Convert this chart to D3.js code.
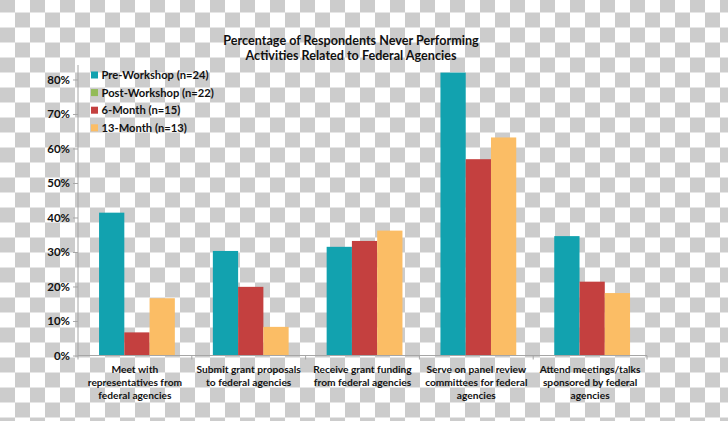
<!DOCTYPE html>
<html><head><meta charset="utf-8">
<script src="https://cdn.jsdelivr.net/npm/d3@7"></script>
<style>body{margin:0;padding:0;overflow:hidden;} svg{display:block;}</style>
</head><body>
<script>
const categories = [
  ["Meet with", "representatives from", "federal agencies"],
  ["Submit grant proposals", "to federal agencies"],
  ["Receive grant funding", "from federal agencies"],
  ["Serve on panel review", "committees for federal", "agencies"],
  ["Attend meetings/talks", "sponsored by federal", "agencies"]
];
const seriesNames = ["Pre-Workshop (n=24)", "Post-Workshop (n=22)", "6-Month (n=15)", "13-Month (n=13)"];
const preWorkshop = [0.414, 0.303, 0.315, 0.82, 0.346];
const postWorkshop = [null, null, null, null, null];
const sixMonth = [0.067, 0.199, 0.332, 0.569, 0.214];
const thirteenMonth = [0.166, 0.083, 0.362, 0.632, 0.181];
const yTicks = [0, 0.1, 0.2, 0.3, 0.4, 0.5, 0.6, 0.7, 0.8];
const titleLines = ["Percentage of Respondents Never Performing", "Activities Related to Federal Agencies"];
const colors = ["#12a2af", "#93bb58", "#c4403f", "#fbbd65"];

const W = 728, H = 421;
const svg = d3.select("body").append("svg").attr("width", W).attr("height", H);

// checkerboard background
const defs = svg.append("defs");
const pat = defs.append("pattern").attr("id", "chk").attr("patternUnits", "userSpaceOnUse")
  .attr("width", 30).attr("height", 30).attr("x", 0).attr("y", 12.5);
pat.append("rect").attr("width", 30).attr("height", 30).attr("fill", "#ffffff");
pat.append("rect").attr("x", 15).attr("y", 0).attr("width", 15).attr("height", 15).attr("fill", "#cccccc");
pat.append("rect").attr("x", 0).attr("y", 15).attr("width", 15).attr("height", 15).attr("fill", "#cccccc");
svg.append("rect").attr("width", W).attr("height", H).attr("fill", "url(#chk)");

const font = "Lato, 'Open Sans', sans-serif";
const plot = {left: 78, right: 647, top: 65, bottom: 355.5};

const y = d3.scaleLinear().domain([0, 0.842]).range([plot.bottom, plot.top]);
const x0 = d3.scaleBand().domain(d3.range(categories.length)).range([plot.left, plot.right]).paddingInner(0).paddingOuter(0);
const bw = x0.bandwidth();
const drawn = [0, 2, 3];
const x1 = d3.scaleBand().domain(drawn).range([bw * 0.185, bw * 0.185 + bw * 0.222 * 3]).padding(0);
const allSeries = [preWorkshop, postWorkshop, sixMonth, thirteenMonth];

// bars
drawn.forEach(si => {
  svg.append("g").selectAll("rect").data(allSeries[si].map((v, i) => ({v, i})).filter(d => d.v != null))
    .join("rect")
    .attr("x", d => x0(d.i) + x1(si))
    .attr("y", d => y(d.v))
    .attr("width", x1.bandwidth())
    .attr("height", d => y(0) - y(d.v))
    .attr("fill", colors[si]);
});

// y axis
const yAxis = d3.axisLeft(y).tickValues(yTicks).tickFormat(d3.format(".0%")).tickSize(5).tickPadding(3);
const gy = svg.append("g").attr("transform", `translate(${plot.left},0)`).call(yAxis);
gy.select(".domain").attr("stroke", "#a6a6a6").attr("d", `M0,${plot.top}V${plot.bottom}`);
gy.selectAll(".tick line").attr("stroke", "#a6a6a6");
gy.selectAll(".tick text").attr("font-family", font).attr("font-weight", "bold").attr("font-size", 11.5).attr("fill", "#111");

// x axis
const gx = svg.append("g").attr("transform", `translate(0,${plot.bottom})`);
gx.append("line").attr("x1", plot.left).attr("x2", plot.right).attr("stroke", "#a6a6a6");
gx.selectAll(".tk").data(d3.range(categories.length + 1)).join("line")
  .attr("x1", d => plot.left + d * bw).attr("x2", d => plot.left + d * bw)
  .attr("y1", 0).attr("y2", 4).attr("stroke", "#a6a6a6");
categories.forEach((lines, i) => {
  const t = gx.append("text").attr("text-anchor", "middle").attr("font-family", font)
    .attr("font-weight", "bold").attr("font-size", 10.2).attr("fill", "#111");
  lines.forEach((l, k) => t.append("tspan").attr("x", x0(i) + bw / 2).attr("y", 17.8 + k * 12.8).text(l));
});

// title
titleLines.forEach((l, k) => {
  svg.append("text").attr("x", 351).attr("y", 44.5 + k * 15.7).attr("text-anchor", "middle")
    .attr("font-family", font).attr("font-weight", "bold").attr("font-size", 12.6).attr("fill", "#111").text(l);
});

// legend
const lg = svg.append("g");
seriesNames.forEach((n, i) => {
  const cy = 75 + i * 17.6;
  lg.append("rect").attr("x", 91).attr("y", cy - 3.5).attr("width", 7).attr("height", 7).attr("fill", colors[i]);
  lg.append("text").attr("x", 101.5).attr("y", cy + 4).attr("font-family", font).attr("font-weight", "bold")
    .attr("font-size", 11.2).attr("fill", "#111").text(n);
});
</script>
</body></html>
